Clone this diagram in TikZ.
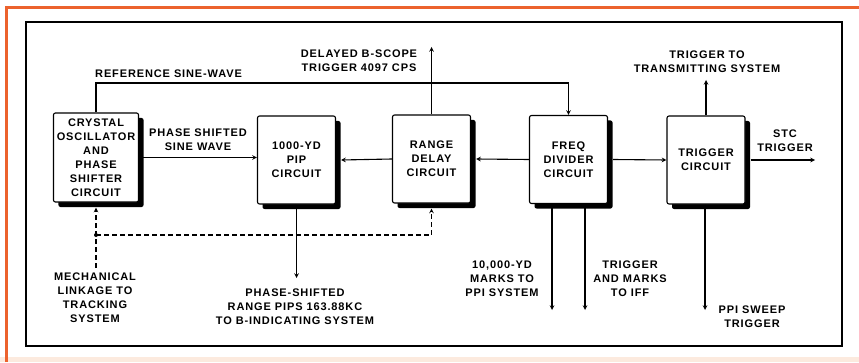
\documentclass[tikz,border=0pt]{standalone}
\usepackage{fontspec}
\usepackage{tikz}
\usetikzlibrary{arrows,positioning,shadows}

\newfontfamily\lblfamily{Liberation Sans}[LetterSpace=8]
\newcommand\diafont{\lblfamily\bfseries\fontsize{11}{14}\selectfont}
\definecolor{rimorange}{RGB}{236,98,45}
\definecolor{rimpeach}{RGB}{252,234,222}

\begin{document}
\begin{tikzpicture}[
  x=1pt, y=1pt,
  blockbox/.style={draw, line width=1.1pt, rounded corners=2pt, fill=white, minimum width=78pt, minimum height=88pt, align=center, font=\diafont,
    drop shadow={shadow xshift=5pt, shadow yshift=-5pt, fill=black, opacity=1}},
  lbl/.style={align=center, font=\diafont, inner sep=0pt},
  sigline/.style={->, >=stealth, line width=1.1pt},
  linkline/.style={line width=1.1pt, dash pattern=on 5pt off 3pt}
]
\useasboundingbox (0,0) rectangle (859,362);

% Page rim and frame
\fill[rimpeach] (0,0) rectangle (859,5);
\draw[rimorange, line width=3pt] (6.5,0) -- (6.5,354) -- (859,354);
\draw[line width=1.3pt] (26,16) rectangle (842,340);

% Blocks
\node[blockbox, minimum width=82pt, minimum height=89pt] (xtal) at (96,204.5) {CRYSTAL\\OSCILLATOR\\AND\\PHASE\\SHIFTER\\CIRCUIT};
\node[blockbox] (pip) at (296.5,202) {1000-YD\\PIP\\CIRCUIT};
\node[blockbox] (rng) at (431.5,203) {RANGE\\DELAY\\CIRCUIT};
\node[blockbox] (freq) at (568.5,202.5) {FREQ\\DIVIDER\\CIRCUIT};
\node[blockbox] (trig) at (706,202) {TRIGGER\\CIRCUIT};

% Free ends
\coordinate (refbus) at (0,279);
\coordinate (bscope) at (431.5,315);
\coordinate (xmit) at (706,282);
\coordinate (stc) at (815,202);
\coordinate (pipout) at (296.5,84);
\coordinate (ppimarks) at (552,52);
\coordinate (iffmarks) at (585,52);
\coordinate (sweep) at (705,52);
\coordinate (linkjoin) at (96,127);
\coordinate (linkend) at (96,94);

% Signal paths
\draw[sigline] (xtal.north) -- (xtal.north |- refbus) -| (freq.north);
\draw[sigline] (xtal.east) -- (xtal.east -| pip.west);
\draw[sigline] (rng.west) -- ([xshift=5pt]pip.east);
\draw[sigline] (freq.west) -- ([xshift=5pt]rng.east);
\draw[sigline] ([xshift=5pt]freq.east) -- (trig.west);
\draw[sigline] ([xshift=5pt]trig.east) -- (stc);
\draw[sigline] (rng.north) -- (bscope);
\draw[sigline] (trig.north) -- (xmit);
\draw[sigline] (pip.south) -- (pipout);
\draw[sigline] (freq.south -| ppimarks) -- (ppimarks);
\draw[sigline] (freq.south -| iffmarks) -- (iffmarks);
\draw[sigline] (trig.south -| sweep) -- (sweep);

% Mechanical linkage
\draw[linkline, ->, >=stealth] (linkend) -- ([yshift=-5pt]xtal.south);
\draw[linkline, ->, >=stealth] (linkjoin) -| ([yshift=-5pt]rng.south);
\fill (linkjoin) circle (2pt);

% Labels
\node[lbl, anchor=south west] (reflbl) at (95,284) {REFERENCE SINE-WAVE};
\node[lbl] (bscopelbl) at (359,301) {DELAYED B-SCOPE\\TRIGGER 4097 CPS};
\node[lbl] (xmitlbl) at (707,300) {TRIGGER TO\\TRANSMITTING SYSTEM};
\node[lbl] (shiftlbl) at (198,222) {PHASE SHIFTED\\SINE WAVE};
\node[lbl] (stclbl) at (785,221) {STC\\TRIGGER};
\node[lbl] (linklbl) at (95,64) {MECHANICAL\\LINKAGE TO\\TRACKING\\SYSTEM};
\node[lbl] (pipslbl) at (295,55) {PHASE-SHIFTED\\RANGE PIPS 163.88KC\\TO B-INDICATING SYSTEM};
\node[lbl] (markslbl) at (502,83) {10,000-YD\\MARKS TO\\PPI SYSTEM};
\node[lbl] (ifflbl) at (630,83) {TRIGGER\\AND MARKS\\TO IFF};
\node[lbl] (sweeplbl) at (752,45) {PPI SWEEP\\TRIGGER};
\end{tikzpicture}
\end{document}
